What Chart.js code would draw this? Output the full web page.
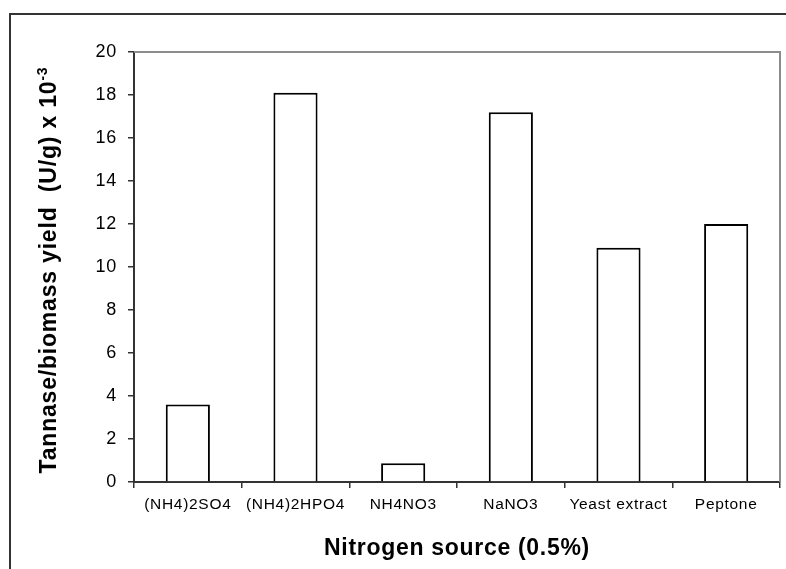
<!DOCTYPE html>
<html>
<head>
<meta charset="utf-8">
<script src="https://cdn.jsdelivr.net/npm/chart.js@4/dist/chart.umd.min.js"></script>
<style>
html,body{margin:0;padding:0;background:#fff;}
#wrap{width:786px;height:569px;position:relative;}
</style>
</head>
<body>
<div id="wrap"><canvas id="c" width="786" height="569"></canvas></div>
<script>
const categories = ["(NH4)2SO4", "(NH4)2HPO4", "NH4NO3", "NaNO3", "Yeast extract", "Peptone"];
const yieldValues = [3.6, 18.1, 0.87, 17.2, 10.9, 12.0];
const yTicks = [0, 2, 4, 6, 8, 10, 12, 14, 16, 18, 20];
const xTitle = "Nitrogen source (0.5%)";
const yTitleMain = "Tannase/biomass yield  (U/g) x 10";
const yTitleSup = "-3";

const FONT = "'Liberation Sans', Arial, Helvetica, sans-serif";

const framePlugin = {
  id: 'frame',
  beforeDraw(chart) {
    const ctx = chart.ctx;
    ctx.letterSpacing = '0.7px';
    ctx.save();
    ctx.fillStyle = '#fff';
    ctx.fillRect(0, 0, chart.width, chart.height);
    ctx.strokeStyle = '#333';
    ctx.lineWidth = 2;
    ctx.beginPath();
    ctx.moveTo(10, chart.height + 2);
    ctx.lineTo(10, 14);
    ctx.lineTo(chart.width + 2, 14);
    ctx.stroke();
    ctx.restore();
  },
  afterDraw(chart) {
    const ctx = chart.ctx;
    const a = chart.chartArea;
    ctx.save();
    ctx.strokeStyle = '#8c8c8c';
    ctx.lineWidth = 2;
    ctx.beginPath();
    ctx.moveTo(a.left, a.top);
    ctx.lineTo(a.right, a.top);
    ctx.lineTo(a.right, a.bottom);
    ctx.stroke();
    // y axis title with superscript
    ctx.fillStyle = '#000';
    ctx.letterSpacing = '0.8px';
    ctx.font = "bold 23px " + FONT;
    const mw = ctx.measureText(yTitleMain).width;
    ctx.font = "bold 14px " + FONT;
    const sw = ctx.measureText(yTitleSup).width;
    const W = mw + sw;
    ctx.translate(56, 270);
    ctx.rotate(-Math.PI / 2);
    ctx.textBaseline = 'alphabetic';
    ctx.textAlign = 'left';
    ctx.font = "bold 23px " + FONT;
    ctx.fillText(yTitleMain, -W / 2, 0);
    ctx.font = "bold 14px " + FONT;
    ctx.fillText(yTitleSup, -W / 2 + mw, -9);
    ctx.restore();
  }
};

new Chart(document.getElementById('c'), {
  type: 'bar',
  data: {
    labels: categories,
    datasets: [{
      data: yieldValues,
      backgroundColor: '#ffffff',
      borderColor: '#000000',
      borderWidth: 2,
      barPercentage: 0.41,
      categoryPercentage: 1.0
    }]
  },
  options: {
    responsive: false,
    animation: false,
    events: [],
    layout: { padding: { top: 52, right: 6, bottom: 0, left: 0 } },
    plugins: { legend: { display: false }, tooltip: { enabled: false }, title: { display: false } },
    scales: {
      x: {
        offset: true,
        grid: { display: true, drawOnChartArea: false, drawTicks: true, tickLength: 6, color: '#333', lineWidth: 1.5, offset: true },
        border: { display: true, color: '#333', width: 2 },
        ticks: { color: '#000', font: { family: FONT, size: 15.5 }, padding: 7, maxRotation: 0, autoSkip: false },
        title: { display: true, text: xTitle, color: '#000', font: { family: FONT, size: 23, weight: 'bold' }, padding: { top: 4, bottom: 7 } },
        afterFit(s) { s.height = 87; }
      },
      y: {
        min: 0,
        max: 20,
        afterBuildTicks(s) { s.ticks = yTicks.map(v => ({ value: v })); },
        grid: { display: true, drawOnChartArea: false, drawTicks: true, tickLength: 6, color: '#333', lineWidth: 1.5 },
        border: { display: true, color: '#333', width: 2 },
        ticks: { color: '#000', font: { family: FONT, size: 18 }, padding: 11 },
        afterFit(s) { s.width = 134; }
      }
    }
  },
  plugins: [framePlugin]
});
</script>
</body>
</html>
